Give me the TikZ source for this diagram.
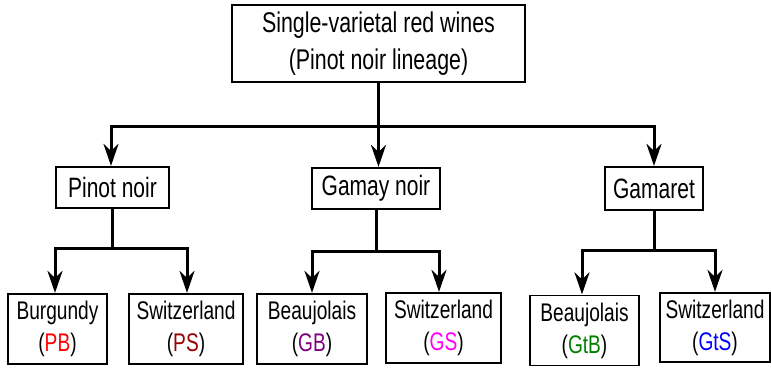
\documentclass[tikz,border=0pt]{standalone}
\usepackage{fontspec}
\setmainfont[FakeStretch=0.75]{Liberation Sans}
\usetikzlibrary{arrows.meta}
\definecolor{cPB}{RGB}{255,0,0}
\definecolor{cPS}{RGB}{153,0,0}
\definecolor{cGB}{RGB}{128,0,128}
\definecolor{cGS}{RGB}{255,0,255}
\definecolor{cGtB}{RGB}{0,128,0}
\definecolor{cGtS}{RGB}{0,0,255}
\begin{document}
\begin{tikzpicture}[x=1pt,y=-1pt,
  box/.style={draw, line width=1.2pt, inner sep=0pt, align=center, font=\fontsize{28}{37}\selectfont},
  leaf/.style={box, minimum height=70pt, font=\fontsize{25.5}{32}\selectfont},
  conn/.style={line width=3pt, line cap=rect},
  arr/.style={line width=3pt, -{Stealth[length=22pt,width=15pt,inset=7pt]}, shorten >=0.5pt}]
\useasboundingbox (0,0) rectangle (771,367);
% top
\node[box, minimum width=293pt, minimum height=77pt, font=\fontsize{28.5}{37}\selectfont] (top) at (378.5,43.5) {Single-varietal red wines\\(Pinot noir lineage)};
% level 2
\node[box, minimum width=113pt, minimum height=41pt] (pinot) at (112.5,187.5) {Pinot noir};
\node[box, minimum width=128pt, minimum height=41pt] (gamay) at (376,188.5) {Gamay noir};
\node[box, minimum width=98pt, minimum height=43pt] (gamaret) at (654,188.5) {Gamaret};
% leaves
\node[leaf, minimum width=99pt] (pb) at (57.5,329) {Burgundy\\(\textcolor{cPB}{PB})};
\node[leaf, minimum width=114pt] (ps) at (186,329) {Switzerland\\(\textcolor{cPS}{PS})};
\node[leaf, minimum width=110pt] (gb) at (312,329) {Beaujolais\\(\textcolor{cGB}{GB})};
\node[leaf, minimum width=115pt] (gs) at (443.5,328) {Switzerland\\(\textcolor{cGS}{GS})};
\node[leaf, minimum width=109pt] (gtb) at (584.5,330.5) {Beaujolais\\(\textcolor{cGtB}{GtB})};
\node[leaf, minimum width=110pt, minimum height=69pt] (gts) at (715,327.5) {Switzerland\\(\textcolor{cGtS}{GtS})};
% level 1 connectors
\coordinate (L1) at (111,126);
\coordinate (R1) at (654,126);
\draw[conn] (top.south) -- (top.south |- L1);
\draw[conn] (L1) -- (R1);
\draw[arr] (L1) -- (L1 |- pinot.north);
\draw[arr] (top.south |- L1) -- (top.south |- gamay.north);
\draw[arr] (R1) -- (R1 |- gamaret.north);
% pinot branch
\coordinate (pa) at (55,248);
\coordinate (pc) at (187,248);
\draw[conn] (pinot.south) -- (pinot.south |- pa);
\draw[conn] (pa) -- (pc);
\draw[arr] (pa) -- (pa |- pb.north);
\draw[arr] (pc) -- (pc |- ps.north);
% gamay branch
\coordinate (ga) at (312,251);
\coordinate (gc) at (439,251);
\draw[conn] (gamay.south) -- (gamay.south |- ga);
\draw[conn] (ga) -- (gc);
\draw[arr] (ga) -- (ga |- gb.north);
\draw[arr] (gc) -- (gc |- gs.north);
% gamaret branch
\coordinate (ta) at (582,250);
\coordinate (tc) at (715,250);
\draw[conn] (gamaret.south) -- (gamaret.south |- ta);
\draw[conn] (ta) -- (tc);
\draw[arr] (ta) -- (ta |- gtb.north);
\draw[arr] (tc) -- (tc |- gts.north);
\end{tikzpicture}
\end{document}
